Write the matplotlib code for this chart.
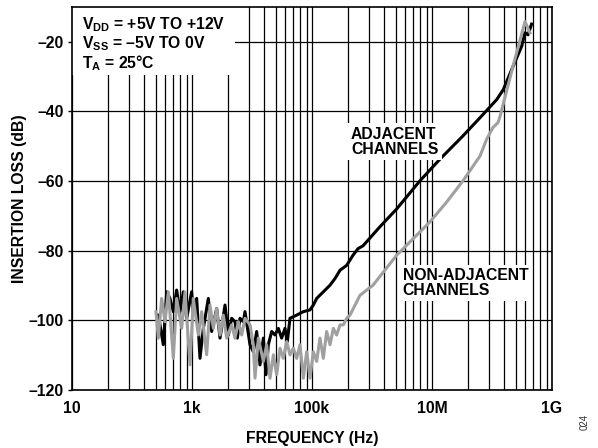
import numpy as np
import matplotlib
matplotlib.use("Agg")
import matplotlib.pyplot as plt
from matplotlib.patches import Rectangle
from matplotlib.ticker import FixedLocator, NullFormatter

plt.rcParams['font.family'] = ['Liberation Sans', 'DejaVu Sans']
plt.rcParams['font.weight'] = 'bold'
plt.rcParams['mathtext.fontset'] = 'custom'
plt.rcParams['mathtext.rm'] = 'Liberation Sans:bold'
plt.rcParams['mathtext.it'] = 'Liberation Sans:bold'
plt.rcParams['mathtext.bf'] = 'Liberation Sans:bold'
plt.rcParams['mathtext.default'] = 'rm'

# log10(frequency in Hz) and insertion loss (dB)
adj_logf = [2.439, 2.522, 2.578, 2.633, 2.689, 2.744, 2.800, 2.856, 2.911, 2.994,
            3.022, 3.078, 3.133, 3.189, 3.272, 3.328, 3.411, 3.467, 3.550, 3.606,
            3.661, 3.717, 3.756, 3.800, 3.856, 3.883, 3.967, 4.022, 4.078, 4.133,
            4.189, 4.233, 4.272, 4.328, 4.383, 4.439, 4.494, 4.550, 4.589, 4.633,
            4.744, 4.856, 4.967, 5.022, 5.078, 5.189, 5.300, 5.383, 5.467, 5.578,
            5.683, 5.767, 5.850, 6.133, 6.411, 6.800, 7.133, 7.517, 7.800, 8.078,
            8.189, 8.350, 8.494, 8.550, 8.600, 8.660]
adj_db = [-98.5, -107.0, -91.8, -93.7, -97.5, -91.3, -97.5, -91.8, -99.4, -91.8,
          -97.5, -93.7, -110.9, -102.3, -93.7, -103.2, -96.6, -105.1, -95.6, -104.2,
          -99.4, -100.4, -105.1, -99.4, -100.4, -97.5, -107.0, -109.0, -103.2, -112.8,
          -105.1, -115.6, -107.0, -103.2, -104.2, -102.3, -105.1, -102.3, -106.1, -99.4,
          -98.5, -97.5, -97.0, -95.6, -93.7, -91.8, -89.9, -88.0, -85.6, -84.2,
          -81.3, -79.4, -78.6, -73.1, -68.0, -59.9, -53.7, -47.0, -41.8, -36.6,
          -33.7, -27.1, -21.3, -17.4, -18.0, -14.9]

nonadj_logf = [2.400, 2.439, 2.494, 2.550, 2.606, 2.689, 2.744, 2.828, 2.883, 2.967,
               3.022, 3.106, 3.161, 3.244, 3.300, 3.356, 3.411, 3.467, 3.522, 3.578,
               3.661, 3.717, 3.772, 3.828, 3.883, 3.967, 4.022, 4.050, 4.106, 4.189,
               4.244, 4.300, 4.356, 4.411, 4.467, 4.522, 4.578, 4.633, 4.689, 4.744,
               4.800, 4.856, 4.911, 4.967, 5.022, 5.078, 5.133, 5.189, 5.244, 5.300,
               5.356, 5.411, 5.467, 5.522, 5.578, 5.633, 5.800, 6.017, 6.410, 6.683,
               6.967, 7.245, 7.517, 7.800, 7.910, 8.017, 8.100, 8.133, 8.350, 8.550,
               8.633]
nonadj_db = [-97.5, -105.1, -93.7, -100.4, -91.8, -110.9, -93.7, -102.3, -91.8, -112.8,
             -93.7, -104.2, -97.5, -109.9, -95.6, -102.3, -96.6, -104.2, -98.5, -105.1,
             -101.3, -105.1, -100.4, -104.2, -99.4, -101.3, -107.0, -116.6, -105.1, -111.8,
             -107.0, -116.6, -109.9, -115.6, -108.0, -110.9, -106.1, -109.9, -108.0, -110.9,
             -107.0, -116.6, -109.0, -116.6, -109.0, -111.8, -105.1, -110.9, -103.2, -107.0,
             -102.3, -104.2, -101.3, -101.3, -99.4, -98.5, -92.8, -89.9, -81.3, -76.6,
             -71.7, -66.0, -59.9, -52.8, -48.0, -44.6, -43.2, -41.5, -27.0, -14.2,
             -17.4]

x_ticks = [1e1, 1e3, 1e5, 1e7, 1e9]
x_labels = ['10', '1k', '100k', '10M', '1G']
y_ticks = [-120, -100, -80, -60, -40, -20]
y_labels = ['–120', '–100', '–80', '–60', '–40', '–20']

fs = 11.3

fig = plt.figure(figsize=(5.98, 4.48), dpi=100)
ax = fig.add_axes([72 / 598, 58 / 448, 480 / 598, 383 / 448])

f_adj = 10 ** np.array(adj_logf)
f_non = 10 ** np.array(nonadj_logf)
ax.plot(f_adj, adj_db, color='black', lw=2.2, zorder=3)
ax.plot(f_non, nonadj_db, color='#a0a0a0', lw=2.2, zorder=3.1)

ax.set_xscale('log')
ax.set_xlim(1e1, 1e9)
ax.set_ylim(-120, -10)

# the original grid repeats one log cycle for every two decades
minor = [10 * 100 ** k * m ** 2 for k in range(4) for m in range(2, 10)]
ax.xaxis.set_major_locator(FixedLocator(x_ticks))
ax.xaxis.set_minor_locator(FixedLocator(minor))
ax.xaxis.set_minor_formatter(NullFormatter())
ax.set_xticklabels(x_labels)
ax.set_yticks(y_ticks)
ax.set_yticklabels(y_labels)
ax.tick_params(axis='x', which='both', length=0, pad=8, labelsize=fs)
ax.tick_params(axis='y', length=3, width=1, pad=3, labelsize=fs)

ax.grid(True, which='both', axis='x', color='black', lw=0.9)
ax.grid(True, which='major', axis='y', color='black', lw=0.9)
for s in ax.spines.values():
    s.set_linewidth(1.2)

ax.set_xlabel('FREQUENCY (Hz)', fontsize=fs, fontweight='bold', labelpad=11)
ax.set_ylabel('INSERTION LOSS (dB)', fontsize=fs, fontweight='bold', labelpad=1)

# white area behind the conditions text
ax.add_patch(Rectangle((0, 0.822), 0.34, 0.178, transform=ax.transAxes,
                       facecolor='white', edgecolor='none', zorder=2))
ax.text(0.021, 0.9426, 'V$_{DD}$ = +5V TO +12V', transform=ax.transAxes,
        fontsize=fs, va='baseline', zorder=4)
ax.text(0.021, 0.8916, 'V$_{SS}$ = –5V TO 0V', transform=ax.transAxes,
        fontsize=fs, va='baseline', zorder=4)
ax.text(0.021, 0.8407, 'T$_{A}$ = 25°C', transform=ax.transAxes,
        fontsize=fs, va='baseline', zorder=4)

box = dict(facecolor='white', edgecolor='none', pad=2.5)
ax.text(0.581, 0.6875, 'ADJACENT\nCHANNELS', transform=ax.transAxes,
        fontsize=fs, va='top', ha='left', linespacing=1.0, bbox=box, zorder=4)
ax.text(0.689, 0.3185, 'NON-ADJACENT\nCHANNELS', transform=ax.transAxes,
        fontsize=fs, va='top', ha='left', linespacing=1.0, bbox=box, zorder=4)

fig.text(0.978, 0.04, '024', rotation=90, fontsize=7, fontweight='normal',
         ha='center', va='bottom', color='#333333')

fig.savefig('out.png', dpi=100)
